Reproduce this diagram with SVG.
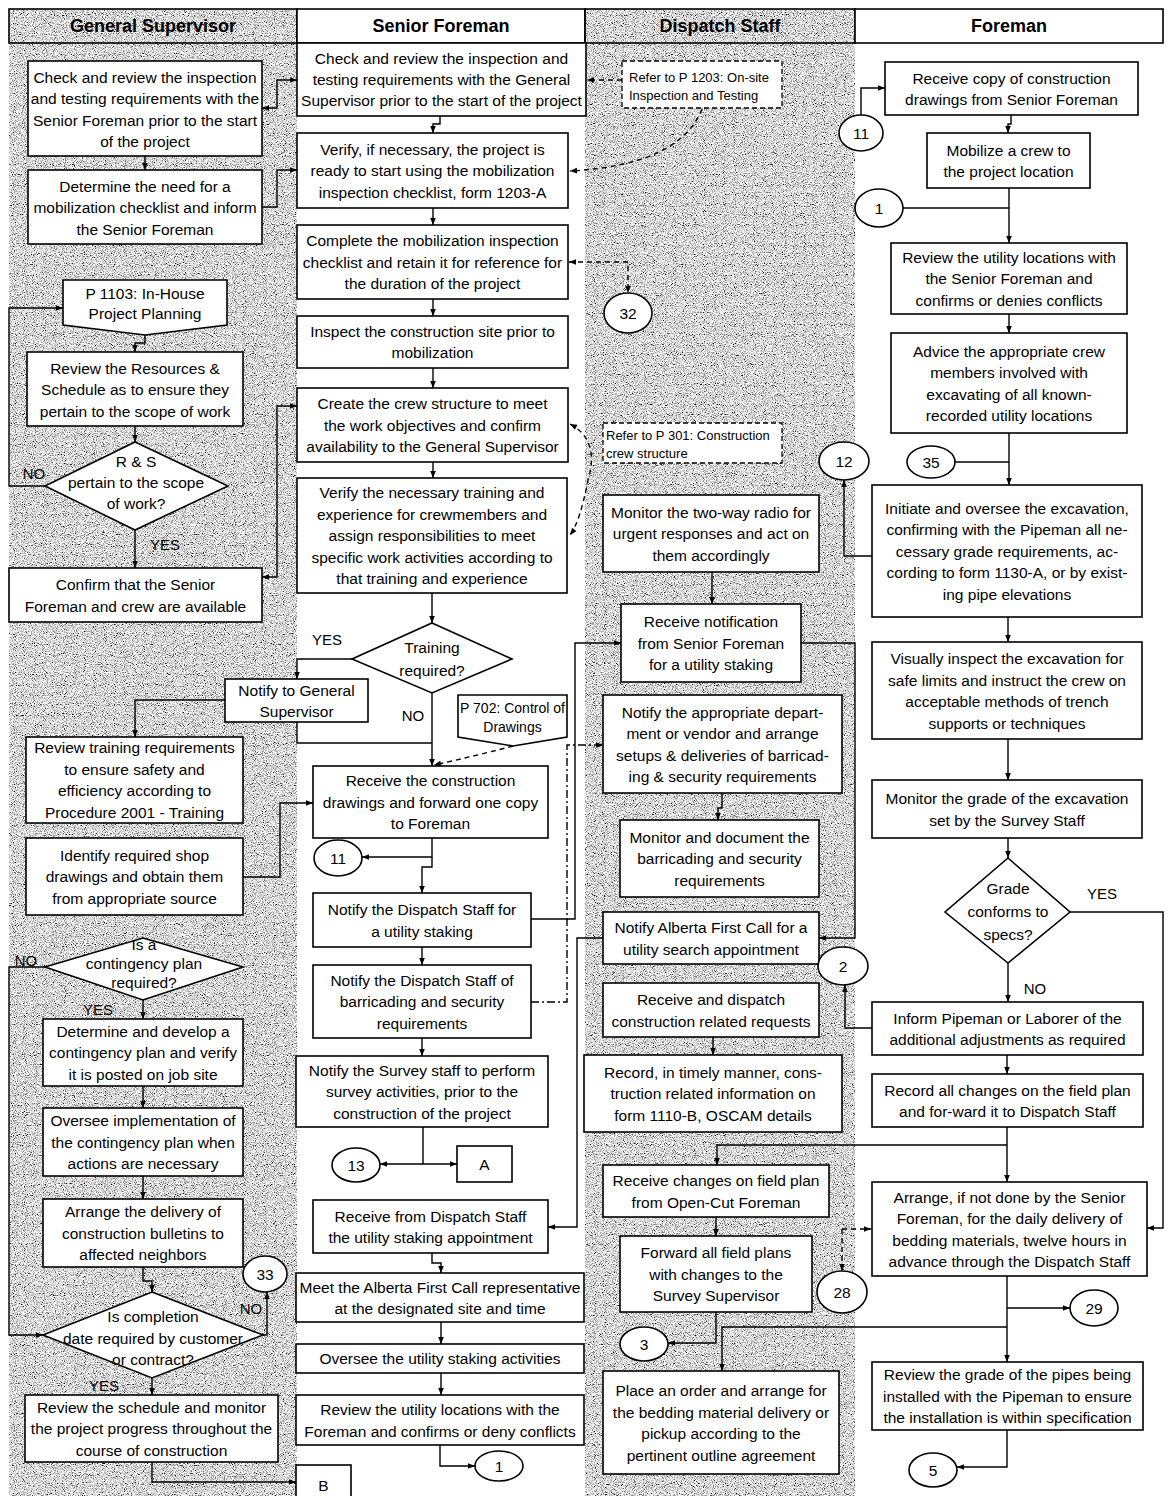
<svg xmlns="http://www.w3.org/2000/svg" width="1173" height="1496" viewBox="0 0 1173 1496">
  <style>
    .box { fill: #fff; stroke: #000; stroke-width: 1.6; }
    .refbox { fill: #fff; stroke: #000; stroke-width: 1.3; stroke-dasharray: 5 3; }
    .hdr { fill: none; stroke: #000; stroke-width: 1.6; }
    .hdrw { fill: #fff; stroke: #000; stroke-width: 1.6; }
    text { font-family: "Liberation Sans", Arial, sans-serif; fill: #000; }
    .t { font-size: 15.5px; text-anchor: middle; }
    .h { font-size: 18px; font-weight: bold; text-anchor: middle; }
    .s { font-size: 13px; }
    .lbl { font-size: 15px; text-anchor: middle; }
    .conn { fill: none; stroke: #000; stroke-width: 1.4; }
    .dash { stroke-dasharray: 5 4; }
    .dashdot { stroke-dasharray: 8 3 2 3; }
    .arr { marker-end: url(#ah); }
    .arr2 { marker-start: url(#ah); marker-end: url(#ah); }
  </style>
  <defs>
    <marker id="ah" viewBox="0 0 10 10" refX="10" refY="5" markerWidth="8" markerHeight="7" markerUnits="userSpaceOnUse" orient="auto-start-reverse">
      <path d="M0,1 L10,5 L0,9 z" fill="#000"/>
    </marker>
    <filter id="grain" x="0" y="0" width="1" height="1">
      <feTurbulence type="fractalNoise" baseFrequency="1.1" numOctaves="1" seed="7" result="noise"/>
      <feColorMatrix in="noise" type="matrix" values="3 0 0 0 -0.8  3 0 0 0 -0.8  3 0 0 0 -0.8  0 0 0 0 1" result="g"/>
      <feComposite in="g" in2="SourceAlpha" operator="in"/>
    </filter>
  </defs>

  <rect width="1173" height="1496" fill="#fff"/>

  <!-- shaded swimlanes -->
  <g id="lanes">
    <rect x="9" y="9" width="288" height="1487" fill="#bbb" filter="url(#grain)"/>
    <rect x="585" y="9" width="270" height="1487" fill="#bbb" filter="url(#grain)"/>
  </g>

  <!-- lane headers -->
  <g id="headers">
    <rect class="hdr" x="9" y="9" width="288" height="34"/>
    <text class="h" x="153" y="32">General Supervisor</text>
    <rect class="hdrw" x="297" y="9" width="288" height="34"/>
    <text class="h" x="441" y="32">Senior Foreman</text>
    <rect class="hdr" x="585" y="9" width="270" height="34"/>
    <text class="h" x="720" y="32">Dispatch Staff</text>
    <rect class="hdrw" x="855" y="9" width="308" height="34"/>
    <text class="h" x="1009" y="32">Foreman</text>
  </g>

  <!-- connectors -->
  <g id="connectors">
    <!-- General Supervisor lane -->
    <path class="conn arr2" d="M262 108 H277 V80 H297"/>
    <path class="conn arr" d="M145 156 V170"/>
    <path class="conn arr" d="M262 207 H277 V170 H297"/>
    <path class="conn arr" d="M145 335 V343 H135 V352"/>
    <path class="conn arr" d="M135 426 V442"/>
    <path class="conn arr" d="M45 486 H9 V308 H63"/>
    <path class="conn arr" d="M135 530 V568"/>
    <path class="conn arr2" d="M262 577 H277 V406 H297"/>
    <path class="conn arr" d="M352 659 H297 V679"/>
    <path class="conn arr" d="M225 700 H135 V737"/>
    <path class="conn" d="M297 722 V743 H432"/>
    <path class="conn arr" d="M243 877 H280 V803 H313"/>
    <path class="conn arr" d="M45 967 H9 V1335 H43"/>
    <path class="conn arr" d="M143 1000 V1019"/>
    <path class="conn arr" d="M143 1086 V1108"/>
    <path class="conn arr" d="M143 1176 V1199"/>
    <path class="conn arr" d="M143 1267 V1281 H152 V1292"/>
    <path class="conn arr" d="M263 1335 H267 V1292"/>
    <path class="conn arr" d="M152 1378 V1395"/>
    <path class="conn arr" d="M152 1462 V1482 H296"/>

    <!-- Senior Foreman lane -->
    <path class="conn arr" d="M440 116 V124 H433 V133"/>
    <path class="conn arr" d="M433 208 V225"/>
    <path class="conn arr" d="M433 299 V316"/>
    <path class="conn arr" d="M433 368 V388"/>
    <path class="conn arr" d="M433 462 V478"/>
    <path class="conn arr" d="M432 593 V623"/>
    <path class="conn arr" d="M432 693 V766"/>
    <path class="conn dash arr" d="M513 746 Q475 756 434 765"/>
    <path class="conn arr" d="M432 838 V857 H362"/>
    <path class="conn arr" d="M432 857 V867 H422 V893"/>
    <path class="conn arr" d="M531 919 H575 V643 H621"/>
    <path class="conn arr" d="M422 947 V965"/>
    <path class="conn dashdot arr" d="M531 1002 H567 V745 H603"/>
    <path class="conn arr" d="M422 1038 V1056"/>
    <path class="conn" d="M423 1127 V1164"/>
    <path class="conn arr" d="M423 1164 H380"/>
    <path class="conn arr" d="M423 1164 H457"/>
    <path class="conn arr" d="M603 938 H577 V1227 H548"/>
    <path class="conn arr" d="M432 1253 V1263 H441 V1273"/>
    <path class="conn arr" d="M441 1322 V1344"/>
    <path class="conn arr" d="M441 1373 V1395"/>
    <path class="conn arr" d="M440 1445 V1466 H475"/>

    <!-- references -->
    <path class="conn dash arr" d="M622 80 H587"/>
    <path class="conn dash arr" d="M702 109 Q680 165 570 171"/>
    <path class="conn dash arr2" d="M569 262 H628 V293"/>
    <path class="conn dash arr2" d="M570 424 Q600 440 588 480 Q580 522 570 535"/>

    <!-- Dispatch Staff lane -->
    <path class="conn arr" d="M712 572 V604"/>
    <path class="conn arr" d="M801 643 H855 V938 H819"/>
    <path class="conn arr" d="M722 793 V808 H718 V820"/>
    <path class="conn arr" d="M872 1028 H845 V985"/>
    <path class="conn arr" d="M713 1037 V1055"/>
    <path class="conn arr" d="M716 1217 V1236"/>
    <path class="conn arr" d="M716 1312 V1343 H668"/>
    <path class="conn dash arr" d="M842 1229 H871"/>
    <path class="conn dash arr" d="M842 1229 V1271"/>

    <!-- Foreman lane -->
    <path class="conn arr" d="M861 115 V88 H885"/>
    <path class="conn arr" d="M1011 115 V124 H1008 V133"/>
    <path class="conn" d="M903 208 H1009"/>
    <path class="conn arr" d="M1009 188 V243"/>
    <path class="conn arr" d="M1009 314 V333"/>
    <path class="conn" d="M955 462 H1009"/>
    <path class="conn arr" d="M1009 433 V485"/>
    <path class="conn arr" d="M872 556 H844 V480"/>
    <path class="conn arr" d="M1008 617 V642"/>
    <path class="conn arr" d="M1008 739 V780"/>
    <path class="conn arr" d="M1008 838 V858"/>
    <path class="conn arr" d="M1070 912 H1163 V1228 H1147"/>
    <path class="conn arr" d="M1008 963 V1002"/>
    <path class="conn arr" d="M1007 1055 V1074"/>
    <path class="conn arr" d="M1007 1127 V1182"/>
    <path class="conn arr" d="M1007 1145 H717 V1165"/>
    <path class="conn arr" d="M1007 1276 V1362"/>
    <path class="conn arr" d="M1007 1308 H1070"/>
    <path class="conn arr" d="M1007 1327 H722 V1371"/>
    <path class="conn arr" d="M1007 1430 V1467 H957"/>
  </g>

  <!-- decision labels -->
  <g id="labels">
    <text class="lbl" x="34" y="479">NO</text>
    <text class="lbl" x="165" y="550">YES</text>
    <text class="lbl" x="327" y="645">YES</text>
    <text class="lbl" x="413" y="721">NO</text>
    <text class="lbl" x="26" y="966">NO</text>
    <text class="lbl" x="98" y="1015">YES</text>
    <text class="lbl" x="251" y="1314">NO</text>
    <text class="lbl" x="104" y="1391">YES</text>
    <text class="lbl" x="1102" y="899">YES</text>
    <text class="lbl" x="1035" y="994">NO</text>
  </g>

  <!-- General Supervisor nodes -->
  <g id="gs-check-review">
    <rect class="box" x="28" y="61" width="234" height="95"/>
    <text class="t" x="145" y="82.5"><tspan x="145">Check and review the inspection</tspan><tspan x="145" dy="21.5">and testing requirements with the</tspan><tspan x="145" dy="21.5">Senior Foreman prior to the start</tspan><tspan x="145" dy="21.5">of the project</tspan></text>
  </g>
  <g id="gs-determine-need">
    <rect class="box" x="28" y="170" width="234" height="74"/>
    <text class="t" x="145" y="191.5"><tspan x="145">Determine the need for a</tspan><tspan x="145" dy="21.5">mobilization checklist and inform</tspan><tspan x="145" dy="21.5">the Senior Foreman</tspan></text>
  </g>
  <g id="gs-p1103">
    <path class="box" d="M63 280 H227 V325 L145 335 L63 325 Z"/>
    <text class="t" x="145" y="298.5"><tspan x="145">P 1103: In-House</tspan><tspan x="145" dy="20">Project Planning</tspan></text>
  </g>
  <g id="gs-review-resources">
    <rect class="box" x="27" y="352" width="216" height="74"/>
    <text class="t" x="135" y="373.5"><tspan x="135">Review the Resources &amp;</tspan><tspan x="135" dy="21.5">Schedule as to ensure they</tspan><tspan x="135" dy="21.5">pertain to the scope of work</tspan></text>
  </g>
  <g id="gs-rs-decision">
    <path class="box" d="M135 442 L228 486 L135 530 L45 486 Z"/>
    <text class="t" x="136" y="467"><tspan x="136">R &amp; S</tspan><tspan x="136" dy="21">pertain to the scope</tspan><tspan x="136" dy="21">of work?</tspan></text>
  </g>
  <g id="gs-confirm">
    <rect class="box" x="9" y="568" width="253" height="54"/>
    <text class="t" x="135.5" y="590"><tspan x="135.5">Confirm that the Senior</tspan><tspan x="135.5" dy="21.5">Foreman and crew are available</tspan></text>
  </g>
  <g id="notify-gs">
    <rect class="box" x="225" y="679" width="143" height="43"/>
    <text class="t" x="296.5" y="695.5"><tspan x="296.5">Notify to General</tspan><tspan x="296.5" dy="21">Supervisor</tspan></text>
  </g>
  <g id="gs-review-training">
    <rect class="box" x="26" y="737" width="217" height="86"/>
    <text class="t" x="134.5" y="753"><tspan x="134.5">Review training requirements</tspan><tspan x="134.5" dy="21.5">to ensure safety and</tspan><tspan x="134.5" dy="21.5">efficiency according to</tspan><tspan x="134.5" dy="21.5">Procedure 2001 - Training</tspan></text>
  </g>
  <g id="gs-shop-drawings">
    <rect class="box" x="26" y="838" width="217" height="77"/>
    <text class="t" x="134.5" y="860.5"><tspan x="134.5">Identify required shop</tspan><tspan x="134.5" dy="21.5">drawings and obtain them</tspan><tspan x="134.5" dy="21.5">from appropriate source</tspan></text>
  </g>
  <g id="gs-contingency-decision">
    <path class="box" d="M143 938 L243 967 L143 1000 L45 967 Z"/>
    <text class="t" x="144" y="950"><tspan x="144">Is a</tspan><tspan x="144" dy="19">contingency plan</tspan><tspan x="144" dy="19">required?</tspan></text>
  </g>
  <g id="gs-develop-plan">
    <rect class="box" x="43" y="1019" width="200" height="67"/>
    <text class="t" x="143" y="1036.5"><tspan x="143">Determine and develop a</tspan><tspan x="143" dy="21.5">contingency plan and verify</tspan><tspan x="143" dy="21.5">it is posted on job site</tspan></text>
  </g>
  <g id="gs-oversee-plan">
    <rect class="box" x="43" y="1108" width="200" height="68"/>
    <text class="t" x="143" y="1126"><tspan x="143">Oversee implementation of</tspan><tspan x="143" dy="21.5">the contingency plan when</tspan><tspan x="143" dy="21.5">actions are necessary</tspan></text>
  </g>
  <g id="gs-bulletins">
    <rect class="box" x="43" y="1199" width="200" height="68"/>
    <text class="t" x="143" y="1217"><tspan x="143">Arrange the delivery of</tspan><tspan x="143" dy="21.5">construction bulletins to</tspan><tspan x="143" dy="21.5">affected neighbors</tspan></text>
  </g>
  <g id="conn-33">
    <ellipse class="box" cx="265" cy="1274" rx="22" ry="18"/>
    <text class="t" x="265" y="1279.5">33</text>
  </g>
  <g id="gs-completion-decision">
    <path class="box" d="M152 1292 L263 1335 L152 1378 L43 1335 Z"/>
    <text class="t" x="153" y="1322"><tspan x="153">Is completion</tspan><tspan x="153" dy="21.5">date required by customer</tspan><tspan x="153" dy="21.5">or contract?</tspan></text>
  </g>
  <g id="gs-review-schedule">
    <rect class="box" x="25" y="1395" width="253" height="67"/>
    <text class="t" x="151.5" y="1412.5"><tspan x="151.5">Review the schedule and monitor</tspan><tspan x="151.5" dy="21.5">the project progress throughout the</tspan><tspan x="151.5" dy="21.5">course of construction</tspan></text>
  </g>
  <g id="conn-b">
    <rect class="box" x="296" y="1465" width="55" height="40"/>
    <text class="t" x="323.5" y="1490.5">B</text>
  </g>

  <!-- Senior Foreman nodes -->
  <g id="sf-check-review">
    <rect class="box" x="297" y="43" width="289" height="73"/>
    <text class="t" x="441.5" y="64"><tspan x="441.5">Check and review the inspection and</tspan><tspan x="441.5" dy="21">testing requirements with the General</tspan><tspan x="441.5" dy="21">Supervisor prior to the start of the project</tspan></text>
  </g>
  <g id="sf-verify-ready">
    <rect class="box" x="297" y="133" width="271" height="75"/>
    <text class="t" x="432.5" y="154.5"><tspan x="432.5">Verify, if necessary, the project is</tspan><tspan x="432.5" dy="21.5">ready to start using the mobilization</tspan><tspan x="432.5" dy="21.5">inspection checklist, form 1203-A</tspan></text>
  </g>
  <g id="sf-complete-checklist">
    <rect class="box" x="297" y="225" width="271" height="74"/>
    <text class="t" x="432.5" y="246"><tspan x="432.5">Complete the mobilization inspection</tspan><tspan x="432.5" dy="21.5">checklist and retain it for reference for</tspan><tspan x="432.5" dy="21.5">the duration of the project</tspan></text>
  </g>
  <g id="sf-inspect-site">
    <rect class="box" x="297" y="316" width="271" height="52"/>
    <text class="t" x="432.5" y="336.5"><tspan x="432.5">Inspect the construction site prior to</tspan><tspan x="432.5" dy="21.5">mobilization</tspan></text>
  </g>
  <g id="sf-crew-structure">
    <rect class="box" x="297" y="388" width="271" height="74"/>
    <text class="t" x="432.5" y="409"><tspan x="432.5">Create the crew structure to meet</tspan><tspan x="432.5" dy="21.5">the work objectives and confirm</tspan><tspan x="432.5" dy="21.5">availability to the General Supervisor</tspan></text>
  </g>
  <g id="sf-verify-training">
    <rect class="box" x="297" y="478" width="270" height="115"/>
    <text class="t" x="432" y="498"><tspan x="432">Verify the necessary training and</tspan><tspan x="432" dy="21.5">experience for crewmembers and</tspan><tspan x="432" dy="21.5">assign responsibilities to meet</tspan><tspan x="432" dy="21.5">specific work activities according to</tspan><tspan x="432" dy="21.5">that training and experience</tspan></text>
  </g>
  <g id="sf-training-decision">
    <path class="box" d="M432 623 L512 659 L432 693 L352 659 Z"/>
    <text class="t" x="432" y="653"><tspan x="432">Training</tspan><tspan x="432" dy="23">required?</tspan></text>
  </g>
  <g id="ref-p702">
    <path class="box" d="M458 695 H567 V737 L513 746 L458 737 Z"/>
    <text class="t" x="512.5" y="713" style="font-size:14px"><tspan x="512.5">P 702: Control of</tspan><tspan x="512.5" dy="19">Drawings</tspan></text>
  </g>
  <g id="sf-receive-drawings">
    <rect class="box" x="313" y="766" width="235" height="72"/>
    <text class="t" x="430.5" y="786"><tspan x="430.5">Receive the construction</tspan><tspan x="430.5" dy="21.5">drawings and forward one copy</tspan><tspan x="430.5" dy="21.5">to Foreman</tspan></text>
  </g>
  <g id="conn-11-sf">
    <ellipse class="box" cx="338" cy="858" rx="24" ry="18"/>
    <text class="t" x="338" y="863.5">11</text>
  </g>
  <g id="sf-notify-staking">
    <rect class="box" x="313" y="893" width="218" height="54"/>
    <text class="t" x="422" y="915"><tspan x="422">Notify the Dispatch Staff for</tspan><tspan x="422" dy="21.5">a utility staking</tspan></text>
  </g>
  <g id="sf-notify-barricading">
    <rect class="box" x="313" y="965" width="218" height="73"/>
    <text class="t" x="422" y="985.5"><tspan x="422">Notify the Dispatch Staff of</tspan><tspan x="422" dy="21.5">barricading and security</tspan><tspan x="422" dy="21.5">requirements</tspan></text>
  </g>
  <g id="sf-notify-survey">
    <rect class="box" x="296" y="1056" width="252" height="71"/>
    <text class="t" x="422" y="1075.5"><tspan x="422">Notify the Survey staff to perform</tspan><tspan x="422" dy="21.5">survey activities, prior to the</tspan><tspan x="422" dy="21.5">construction of the project</tspan></text>
  </g>
  <g id="conn-13">
    <ellipse class="box" cx="356" cy="1165" rx="24" ry="17"/>
    <text class="t" x="356" y="1170.5">13</text>
  </g>
  <g id="conn-a">
    <rect class="box" x="457" y="1146" width="55" height="36"/>
    <text class="t" x="484.5" y="1170">A</text>
  </g>
  <g id="sf-receive-appointment">
    <rect class="box" x="313" y="1200" width="235" height="53"/>
    <text class="t" x="430.5" y="1221.5"><tspan x="430.5">Receive from Dispatch Staff</tspan><tspan x="430.5" dy="21.5">the utility staking appointment</tspan></text>
  </g>
  <g id="sf-meet-afc">
    <rect class="box" x="296" y="1273" width="288" height="49"/>
    <text class="t" x="440" y="1292.5"><tspan x="440">Meet the Alberta First Call representative</tspan><tspan x="440" dy="21.5">at the designated site and time</tspan></text>
  </g>
  <g id="sf-oversee-staking">
    <rect class="box" x="296" y="1344" width="288" height="29"/>
    <text class="t" x="440" y="1364">Oversee the utility staking activities</text>
  </g>
  <g id="sf-review-locations">
    <rect class="box" x="296" y="1395" width="288" height="50"/>
    <text class="t" x="440" y="1415"><tspan x="440">Review the utility locations with the</tspan><tspan x="440" dy="21.5">Foreman and confirms or deny conflicts</tspan></text>
  </g>
  <g id="conn-1-sf">
    <ellipse class="box" cx="499" cy="1466" rx="24" ry="15"/>
    <text class="t" x="499" y="1471.5">1</text>
  </g>

  <!-- Dispatch Staff nodes -->
  <g id="ref-p1203">
    <rect class="refbox" x="622" y="61" width="160" height="47"/>
    <text class="s" x="629" y="82"><tspan x="629">Refer to P 1203: On-site</tspan><tspan x="629" dy="18">Inspection and Testing</tspan></text>
  </g>
  <g id="conn-32">
    <ellipse class="box" cx="628" cy="313" rx="24" ry="20"/>
    <text class="t" x="628" y="318.5">32</text>
  </g>
  <g id="ref-p301">
    <rect class="refbox" x="603" y="423" width="179" height="40"/>
    <text class="s" x="606" y="440"><tspan x="606">Refer to P 301: Construction</tspan><tspan x="606" dy="18">crew structure</tspan></text>
  </g>
  <g id="ds-monitor-radio">
    <rect class="box" x="603" y="495" width="216" height="77"/>
    <text class="t" x="711" y="517.5"><tspan x="711">Monitor the two-way radio for</tspan><tspan x="711" dy="21.5">urgent responses and act on</tspan><tspan x="711" dy="21.5">them accordingly</tspan></text>
  </g>
  <g id="ds-receive-notification">
    <rect class="box" x="621" y="604" width="180" height="78"/>
    <text class="t" x="711" y="627"><tspan x="711">Receive notification</tspan><tspan x="711" dy="21.5">from Senior Foreman</tspan><tspan x="711" dy="21.5">for a utility staking</tspan></text>
  </g>
  <g id="ds-notify-department">
    <rect class="box" x="603" y="695" width="239" height="98"/>
    <text class="t" x="722.5" y="717.5"><tspan x="722.5">Notify the appropriate depart-</tspan><tspan x="722.5" dy="21.5">ment or vendor and arrange</tspan><tspan x="722.5" dy="21.5">setups &amp; deliveries of barricad-</tspan><tspan x="722.5" dy="21.5">ing &amp; security requirements</tspan></text>
  </g>
  <g id="ds-monitor-barricading">
    <rect class="box" x="620" y="820" width="199" height="77"/>
    <text class="t" x="719.5" y="842.5"><tspan x="719.5">Monitor and document the</tspan><tspan x="719.5" dy="21.5">barricading and security</tspan><tspan x="719.5" dy="21.5">requirements</tspan></text>
  </g>
  <g id="ds-notify-afc">
    <rect class="box" x="603" y="912" width="216" height="52"/>
    <text class="t" x="711" y="933"><tspan x="711">Notify Alberta First Call for a</tspan><tspan x="711" dy="21.5">utility search appointment</tspan></text>
  </g>
  <g id="conn-2">
    <ellipse class="box" cx="843" cy="966" rx="25" ry="19"/>
    <text class="t" x="843" y="971.5">2</text>
  </g>
  <g id="ds-receive-requests">
    <rect class="box" x="603" y="983" width="216" height="54"/>
    <text class="t" x="711" y="1005"><tspan x="711">Receive and dispatch</tspan><tspan x="711" dy="21.5">construction related requests</tspan></text>
  </g>
  <g id="ds-record-info">
    <rect class="box" x="584" y="1055" width="258" height="77"/>
    <text class="t" x="713" y="1077.5"><tspan x="713">Record, in timely manner, cons-</tspan><tspan x="713" dy="21.5">truction related information on</tspan><tspan x="713" dy="21.5">form 1110-B, OSCAM details</tspan></text>
  </g>
  <g id="ds-receive-changes">
    <rect class="box" x="603" y="1165" width="226" height="52"/>
    <text class="t" x="716" y="1186"><tspan x="716">Receive changes on field plan</tspan><tspan x="716" dy="21.5">from Open-Cut Foreman</tspan></text>
  </g>
  <g id="ds-forward-plans">
    <rect class="box" x="620" y="1236" width="192" height="76"/>
    <text class="t" x="716" y="1258"><tspan x="716">Forward all field plans</tspan><tspan x="716" dy="21.5">with changes to the</tspan><tspan x="716" dy="21.5">Survey Supervisor</tspan></text>
  </g>
  <g id="conn-28">
    <ellipse class="box" cx="842" cy="1292" rx="25" ry="21"/>
    <text class="t" x="842" y="1297.5">28</text>
  </g>
  <g id="conn-3">
    <ellipse class="box" cx="644" cy="1344" rx="24" ry="17"/>
    <text class="t" x="644" y="1349.5">3</text>
  </g>
  <g id="ds-place-order">
    <rect class="box" x="603" y="1371" width="236" height="103"/>
    <text class="t" x="721" y="1396"><tspan x="721">Place an order and arrange for</tspan><tspan x="721" dy="21.5">the bedding material delivery or</tspan><tspan x="721" dy="21.5">pickup according to the</tspan><tspan x="721" dy="21.5">pertinent outline agreement</tspan></text>
  </g>

  <!-- Foreman nodes -->
  <g id="conn-11-f">
    <ellipse class="box" cx="861" cy="133" rx="22" ry="18"/>
    <text class="t" x="861" y="138.5">11</text>
  </g>
  <g id="f-receive-copy">
    <rect class="box" x="885" y="62" width="253" height="53"/>
    <text class="t" x="1011.5" y="83.5"><tspan x="1011.5">Receive copy of construction</tspan><tspan x="1011.5" dy="21.5">drawings from Senior Foreman</tspan></text>
  </g>
  <g id="f-mobilize">
    <rect class="box" x="927" y="133" width="163" height="55"/>
    <text class="t" x="1008.5" y="155.5"><tspan x="1008.5">Mobilize a crew to</tspan><tspan x="1008.5" dy="21.5">the project location</tspan></text>
  </g>
  <g id="conn-1-f">
    <ellipse class="box" cx="879" cy="208" rx="24" ry="19"/>
    <text class="t" x="879" y="213.5">1</text>
  </g>
  <g id="f-review-locations">
    <rect class="box" x="891" y="243" width="236" height="71"/>
    <text class="t" x="1009" y="262.5"><tspan x="1009">Review the utility locations with</tspan><tspan x="1009" dy="21.5">the Senior Foreman and</tspan><tspan x="1009" dy="21.5">confirms or denies conflicts</tspan></text>
  </g>
  <g id="f-advice-crew">
    <rect class="box" x="891" y="333" width="236" height="100"/>
    <text class="t" x="1009" y="356.5"><tspan x="1009">Advice the appropriate crew</tspan><tspan x="1009" dy="21.5">members involved with</tspan><tspan x="1009" dy="21.5">excavating of all known-</tspan><tspan x="1009" dy="21.5">recorded utility locations</tspan></text>
  </g>
  <g id="conn-35">
    <ellipse class="box" cx="931" cy="462" rx="24" ry="16"/>
    <text class="t" x="931" y="467.5">35</text>
  </g>
  <g id="conn-12">
    <ellipse class="box" cx="844" cy="461" rx="25" ry="19"/>
    <text class="t" x="844" y="466.5">12</text>
  </g>
  <g id="f-initiate-excavation">
    <rect class="box" x="872" y="485" width="270" height="132"/>
    <text class="t" x="1007" y="513.5"><tspan x="1007">Initiate and oversee the excavation,</tspan><tspan x="1007" dy="21.5">confirming with the Pipeman all ne-</tspan><tspan x="1007" dy="21.5">cessary grade requirements, ac-</tspan><tspan x="1007" dy="21.5">cording to form 1130-A, or by exist-</tspan><tspan x="1007" dy="21.5">ing pipe elevations</tspan></text>
  </g>
  <g id="f-inspect-excavation">
    <rect class="box" x="872" y="642" width="270" height="97"/>
    <text class="t" x="1007" y="664"><tspan x="1007">Visually inspect the excavation for</tspan><tspan x="1007" dy="21.5">safe limits and instruct the crew on</tspan><tspan x="1007" dy="21.5">acceptable methods of trench</tspan><tspan x="1007" dy="21.5">supports or techniques</tspan></text>
  </g>
  <g id="f-monitor-grade">
    <rect class="box" x="872" y="780" width="270" height="58"/>
    <text class="t" x="1007" y="804"><tspan x="1007">Monitor the grade of the excavation</tspan><tspan x="1007" dy="21.5">set by the Survey Staff</tspan></text>
  </g>
  <g id="f-grade-decision">
    <path class="box" d="M1008 858 L1070 912 L1008 963 L945 912 Z"/>
    <text class="t" x="1008" y="894"><tspan x="1008">Grade</tspan><tspan x="1008" dy="23">conforms to</tspan><tspan x="1008" dy="23">specs?</tspan></text>
  </g>
  <g id="f-inform-pipeman">
    <rect class="box" x="872" y="1002" width="271" height="53"/>
    <text class="t" x="1007.5" y="1023.5"><tspan x="1007.5">Inform Pipeman or Laborer of the</tspan><tspan x="1007.5" dy="21.5">additional adjustments as required</tspan></text>
  </g>
  <g id="f-record-changes">
    <rect class="box" x="872" y="1074" width="271" height="53"/>
    <text class="t" x="1007.5" y="1095.5"><tspan x="1007.5">Record all changes on the field plan</tspan><tspan x="1007.5" dy="21.5">and for-ward it to Dispatch Staff</tspan></text>
  </g>
  <g id="f-arrange-bedding">
    <rect class="box" x="872" y="1182" width="275" height="94"/>
    <text class="t" x="1009.5" y="1202.5"><tspan x="1009.5">Arrange, if not done by the Senior</tspan><tspan x="1009.5" dy="21.5">Foreman, for the daily delivery of</tspan><tspan x="1009.5" dy="21.5">bedding materials, twelve hours in</tspan><tspan x="1009.5" dy="21.5">advance through the Dispatch Staff</tspan></text>
  </g>
  <g id="conn-29">
    <ellipse class="box" cx="1094" cy="1308" rx="24" ry="18"/>
    <text class="t" x="1094" y="1313.5">29</text>
  </g>
  <g id="f-review-pipes">
    <rect class="box" x="872" y="1362" width="271" height="68"/>
    <text class="t" x="1007.5" y="1380"><tspan x="1007.5">Review the grade of the pipes being</tspan><tspan x="1007.5" dy="21.5">installed with the Pipeman to ensure</tspan><tspan x="1007.5" dy="21.5">the installation is within specification</tspan></text>
  </g>
  <g id="conn-5">
    <ellipse class="box" cx="933" cy="1470" rx="24" ry="17"/>
    <text class="t" x="933" y="1475.5">5</text>
  </g>
</svg>
